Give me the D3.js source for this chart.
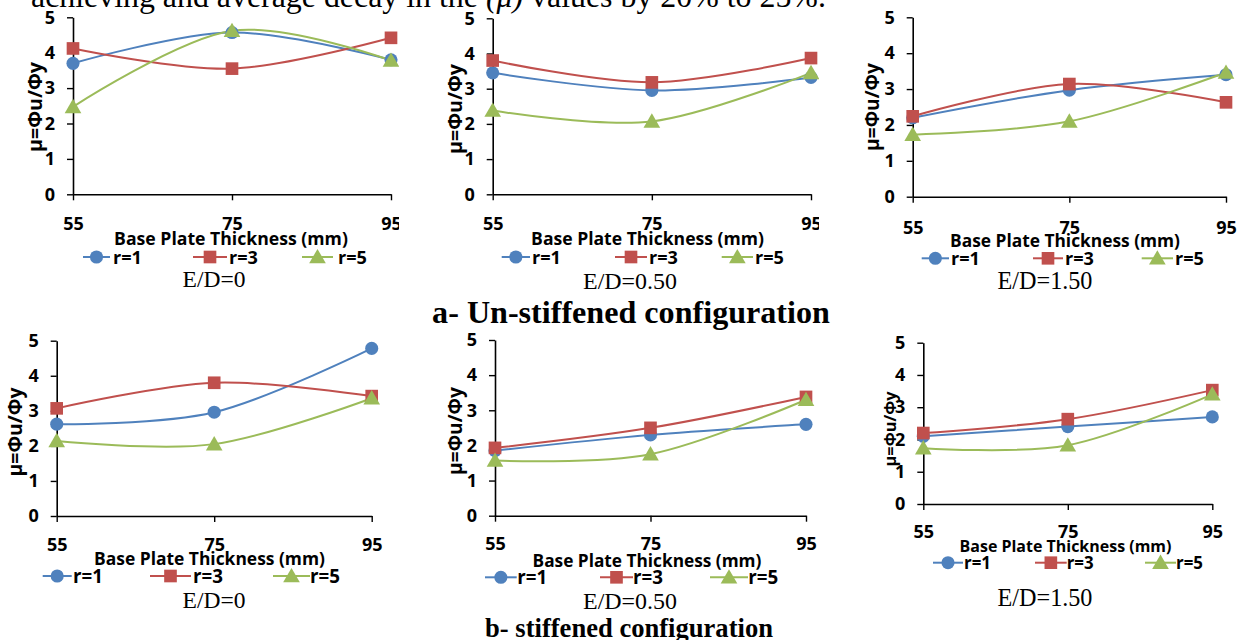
<!DOCTYPE html>
<html><head><meta charset="utf-8">
<script src="https://cdn.jsdelivr.net/npm/d3@7"></script>
<style>
html,body{margin:0;padding:0;background:#fff;}
svg{display:block;}
</style></head>
<body>
<svg id="c" width="1240" height="640"></svg>
<script>
// ---- data ----
const categories = [55, 75, 95];
const yTicks = [0, 1, 2, 3, 4, 5];
const seriesNames = ["r=1", "r=3", "r=5"];
const xAxisTitle = "Base Plate Thickness (mm)";
const yAxisTitle = "μ=Φu/Φy";
const panelLabels = ["E/D=0", "E/D=0.50", "E/D=1.50", "E/D=0", "E/D=0.50", "E/D=1.50"];
// a- Un-stiffened
const un_ED0_r1 = [3.70, 4.57, 3.80];
const un_ED0_r3 = [4.12, 3.55, 4.42];
const un_ED0_r5 = [2.47, 4.62, 3.78];
const un_ED050_r1 = [3.45, 2.95, 3.32];
const un_ED050_r3 = [3.80, 3.18, 3.87];
const un_ED050_r5 = [2.38, 2.07, 3.45];
const un_ED150_r1 = [2.20, 2.97, 3.40];
const un_ED150_r3 = [2.24, 3.14, 2.63];
const un_ED150_r5 = [1.73, 2.10, 3.46];
// b- stiffened
const st_ED0_r1 = [2.62, 2.96, 4.78];
const st_ED0_r3 = [3.07, 3.80, 3.42];
const st_ED0_r5 = [2.14, 2.05, 3.36];
const st_ED050_r1 = [1.85, 2.30, 2.60];
const st_ED050_r3 = [1.93, 2.50, 3.38];
const st_ED050_r5 = [1.57, 1.75, 3.30];
const st_ED150_r1 = [2.10, 2.40, 2.70];
const st_ED150_r3 = [2.20, 2.63, 3.53];
const st_ED150_r5 = [1.73, 1.82, 3.40];

const colors = ["#4F81BD", "#C0504D", "#9BBB59"];
const symbols = [d3.symbolCircle, d3.symbolSquare, d3.symbolTriangle];
const symSizes = [135, 160, 120];

// ---- layout ----
const panels = [
  {series:[un_ED0_r1,un_ED0_r3,un_ED0_r5], x0:73, x2:391, y0:194.3, y5:17.3, tickY:224, titleX:231, titleY:239, titleW:234,
   legY:257, leg:[[83,110,113],[193,227,229],[302,333,338]], legW:29, edX:214, edY:279, edW:63, ytX:35, ytY:107, ytW:90, clip:[0,399]},
  {series:[un_ED050_r1,un_ED050_r3,un_ED050_r5], x0:492.7, x2:811, y0:194.3, y5:18.3, tickY:224, titleX:647.5, titleY:239, titleW:233,
   legY:257, leg:[[501.7,530,532],[615,647,649],[721.7,753,755]], legW:29, edX:630, edY:280, edW:94, ytX:455, ytY:109, ytW:90, clip:[420,819]},
  {series:[un_ED150_r1,un_ED150_r3,un_ED150_r5], x0:912.7, x2:1226, y0:196.7, y5:17.3, tickY:227.7, titleX:1065, titleY:240.7, titleW:230,
   legY:258.3, leg:[[921.7,949,951],[1033,1063,1065],[1141.7,1173,1175]], legW:29, edX:1045, edY:280, edW:95, ytX:872, ytY:107, ytW:88, clip:[840,1240]},
  {series:[st_ED0_r1,st_ED0_r3,st_ED0_r5], x0:56.7, x2:371.7, y0:516, y5:340.7, tickY:545, titleX:209.5, titleY:558.3, titleW:231,
   legY:576, leg:[[42.7,71.7,73],[150,191,193],[273,310,310]], legW:30, edX:214, edY:600, edW:63, ytX:15, ytY:432, ytW:89, clip:[0,420]},
  {series:[st_ED050_r1,st_ED050_r3,st_ED050_r5], x0:495, x2:806, y0:515.7, y5:340, tickY:544, titleX:647, titleY:560.7, titleW:229,
   legY:577.3, leg:[[485,516.7,517.3],[600,633,633],[710,748,748.3]], legW:30, edX:630, edY:600, edW:94, ytX:455, ytY:431, ytW:88, clip:[420,840]},
  {series:[st_ED150_r1,st_ED150_r3,st_ED150_r5], x0:923.3, x2:1212.3, y0:504, y5:342.7, tickY:531.7, titleX:1065.5, titleY:546.7, titleW:212,
   legY:562.7, leg:[[933,963,964],[1035,1066.7,1066.7],[1145,1176,1176]], legW:27, edX:1045, edY:597.3, edW:95, ytX:890, ytY:429, ytW:75, clip:[840,1240]}
];

function fit(sel, target) {
  const fs = parseFloat(sel.attr("font-size"));
  const w = sel.node().getComputedTextLength();
  if (w > 0) sel.attr("font-size", fs * target / w);
  return sel;
}

const svg = d3.select("#c");
const defs = svg.append("defs");
const sans = "'Open Sans', sans-serif";
const serif = "'Liberation Serif', 'Times New Roman', serif";

// top text (cut-off body text)
const bodyLine = svg.append("text").attr("x", 31).attr("y", 7).attr("font-family", serif).attr("font-size", 32);
bodyLine.append("tspan").text("achieving and average decay in the ");
bodyLine.append("tspan").attr("font-style", "italic").text("(μ)");
bodyLine.append("tspan").text(" values by 20% to 25%.");
fit(bodyLine, 795);

fit(svg.append("text").attr("x", 631).attr("y", 323).attr("text-anchor", "middle")
  .attr("font-family", serif).attr("font-weight", "bold").attr("font-size", 32)
  .text("a- Un-stiffened configuration"), 398);
fit(svg.append("text").attr("x", 629).attr("y", 637).attr("text-anchor", "middle")
  .attr("font-family", serif).attr("font-weight", "bold").attr("font-size", 27)
  .text("b- stiffened configuration"), 288);

panels.forEach((p, i) => {
  const cid = "clip" + i;
  defs.append("clipPath").attr("id", cid).append("rect")
    .attr("x", p.clip[0]).attr("y", 0).attr("width", p.clip[1] - p.clip[0]).attr("height", 640);
  const g = svg.append("g").attr("clip-path", `url(#${cid})`);
  const x = d3.scalePoint().domain(categories).range([p.x0, p.x2]);
  const y = d3.scaleLinear().domain([0, 5]).range([p.y0, p.y5]);
  const fsTick = 18;

  // y axis
  const ya = g.append("g").attr("transform", `translate(${p.x0},0)`)
    .call(d3.axisLeft(y).tickValues(yTicks).tickSize(6).tickSizeOuter(0).tickPadding(12).tickFormat(d3.format("d")));
  ya.select(".domain").attr("stroke", "#000").attr("stroke-width", 1.6);
  ya.selectAll(".tick line").attr("stroke", "#000").attr("stroke-width", 1.4);
  ya.selectAll(".tick text").attr("font-family", sans).attr("font-weight", "bold")
    .attr("font-size", fsTick).attr("fill", "#000");

  // x axis
  const xa = g.append("g").attr("transform", `translate(0,${p.y0})`)
    .call(d3.axisBottom(x).tickSize(6).tickSizeOuter(0).tickPadding(0));
  xa.select(".domain").attr("stroke", "#000").attr("stroke-width", 1.6);
  xa.selectAll(".tick line").attr("stroke", "#000").attr("stroke-width", 1.4);
  xa.selectAll(".tick text").attr("font-family", sans).attr("font-weight", "bold")
    .attr("font-size", fsTick).attr("fill", "#000")
    .attr("y", p.tickY - p.y0).attr("dy", "0.36em");

  // lines
  const line = d3.line().x((d, j) => x(categories[j])).y(d => y(d)).curve(d3.curveCardinal.tension(0));
  p.series.forEach((s, k) => {
    g.append("path").datum(s).attr("d", line).attr("fill", "none")
      .attr("stroke", colors[k]).attr("stroke-width", 2);
  });
  p.series.forEach((s, k) => {
    g.selectAll(null).data(s).join("path")
      .attr("transform", (d, j) => `translate(${x(categories[j])},${y(d) + (k === 2 ? 1.5 : 0)})`)
      .attr("d", d3.symbol().type(symbols[k]).size(symSizes[k]))
      .attr("fill", colors[k]);
  });

  // axis titles
  fit(g.append("text").attr("x", p.titleX).attr("y", p.titleY).attr("dy", "0.36em")
    .attr("text-anchor", "middle").attr("font-family", sans).attr("font-weight", "bold")
    .attr("font-size", 16).text(xAxisTitle), p.titleW);
  fit(g.append("text").attr("transform", `translate(${p.ytX},${p.ytY}) rotate(-90)`)
    .attr("dy", "0.36em").attr("text-anchor", "middle").attr("font-family", sans).attr("font-weight", "bold")
    .attr("font-size", 16).text(yAxisTitle), p.ytW);

  // legend
  const legTexts = [];
  p.leg.forEach((l, k) => {
    g.append("line").attr("x1", l[0]).attr("x2", l[1]).attr("y1", p.legY).attr("y2", p.legY)
      .attr("stroke", colors[k]).attr("stroke-width", 2);
    g.append("path").attr("transform", `translate(${(l[0] + l[1]) / 2},${p.legY + (k === 2 ? 1.5 : 0)})`)
      .attr("d", d3.symbol().type(symbols[k]).size(symSizes[k])).attr("fill", colors[k]);
    legTexts.push(g.append("text").attr("x", l[2]).attr("y", p.legY).attr("dy", "0.36em")
      .attr("font-family", sans).attr("font-weight", "bold").attr("font-size", 18)
      .text(seriesNames[k]));
  });
  fit(legTexts[1], p.legW);
  const legFs = legTexts[1].attr("font-size");
  legTexts.forEach(t => t.attr("font-size", legFs));

  // panel caption
  fit(svg.append("text").attr("x", p.edX).attr("y", p.edY).attr("dy", "0.36em").attr("text-anchor", "middle")
    .attr("font-family", serif).attr("font-size", 22).text(panelLabels[i]), p.edW);
});
</script>
</body></html>
